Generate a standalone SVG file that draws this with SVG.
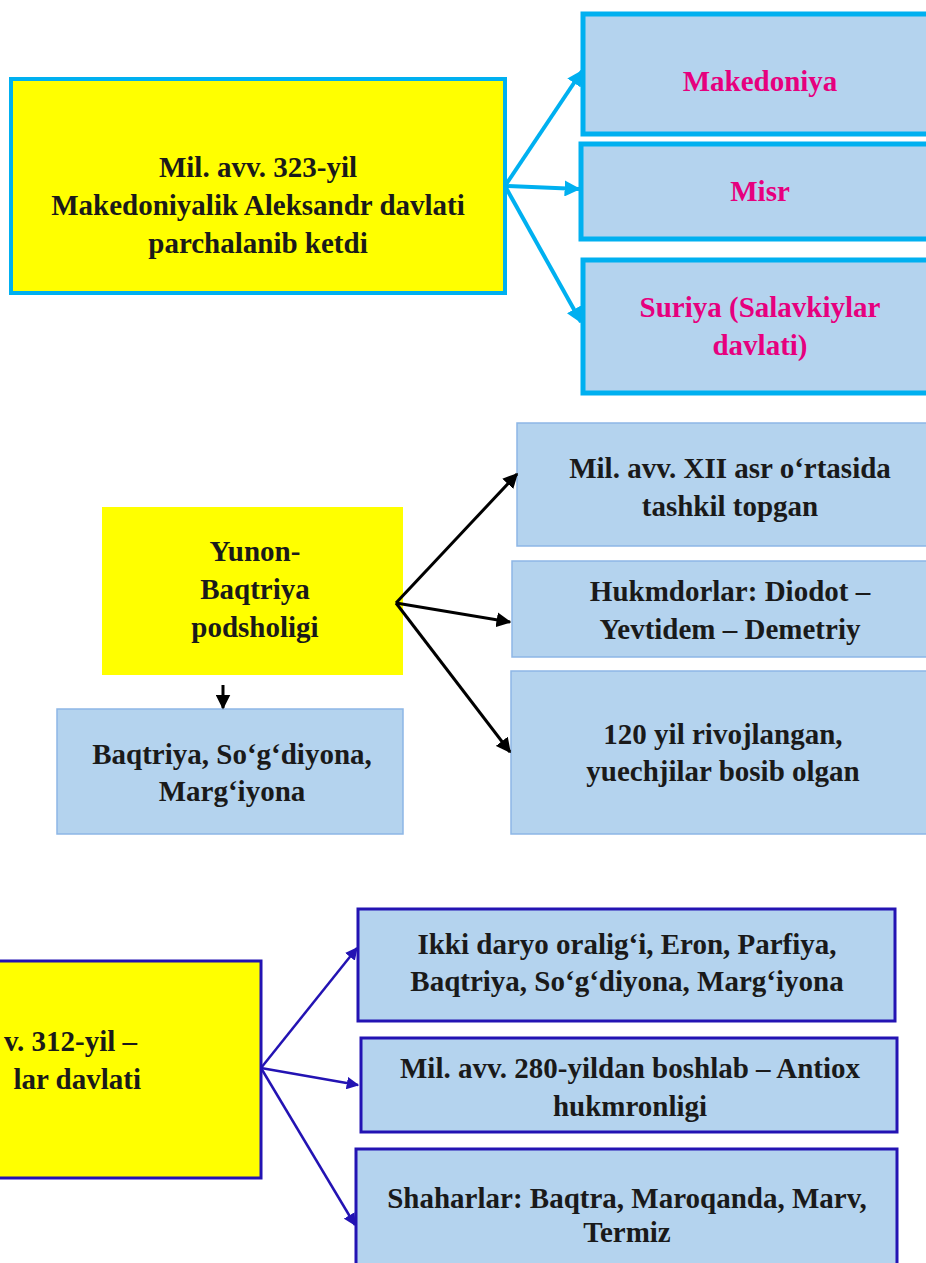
<svg xmlns="http://www.w3.org/2000/svg" width="926" height="1263" viewBox="0 0 926 1263">
<style>
text{font-family:"Liberation Serif","Times New Roman",serif;font-weight:bold;font-size:29px;text-anchor:middle;fill:#1a1a1a}
.pink{fill:#E6007E}
.yc{fill:#FFFF00;stroke:#00B0F0;stroke-width:4}
.bc{fill:#B4D3EE;stroke:#00B0F0;stroke-width:5}
.bm{fill:#B4D3EE;stroke:#8DB6E6;stroke-width:1.5}
.yb{fill:#FFFF00;stroke:#2313B3;stroke-width:3}
.bb{fill:#B4D3EE;stroke:#2313B3;stroke-width:3}
</style>
<defs>
<marker id="ac" viewBox="0 0 10 10" refX="9" refY="5" markerWidth="4" markerHeight="4" orient="auto" markerUnits="strokeWidth"><path d="M0,0 L10,5 L0,10 z" fill="#00B0F0"/></marker>
<marker id="ak" viewBox="0 0 10 10" refX="9" refY="5" markerWidth="5" markerHeight="5" orient="auto" markerUnits="strokeWidth"><path d="M0,0 L10,5 L0,10 z" fill="#000"/></marker>
<marker id="ab" viewBox="0 0 10 10" refX="9" refY="5" markerWidth="5" markerHeight="5" orient="auto" markerUnits="strokeWidth"><path d="M0,0 L10,5 L0,10 z" fill="#2313B3"/></marker>
</defs>
<g id="n-alexander"><rect class="yc" x="11" y="79" width="494" height="214"/>
<text x="258" y="177">Mil. avv. 323-yil</text><text x="258" y="215">Makedoniyalik Aleksandr davlati</text><text x="258" y="253">parchalanib ketdi</text></g>
<g id="n-makedoniya"><rect class="bc" x="583" y="14" width="350" height="120"/><text class="pink" x="760" y="91">Makedoniya</text></g>
<g id="n-misr"><rect class="bc" x="581" y="144" width="350" height="95"/><text class="pink" x="760" y="201">Misr</text></g>
<g id="n-suriya"><rect class="bc" x="583" y="260" width="350" height="133"/><text class="pink" x="760" y="317">Suriya (Salavkiylar</text><text class="pink" x="760" y="355">davlati)</text></g>
<g id="n-yunon"><rect x="102" y="507" width="301" height="168" fill="#FFFF00"/>
<text x="255" y="561">Yunon-</text><text x="255" y="599">Baqtriya</text><text x="255" y="637">podsholigi</text></g>
<g id="n-xii"><rect class="bm" x="517" y="423" width="412" height="123"/><text x="730" y="478">Mil. avv. XII asr o‘rtasida</text><text x="730" y="516">tashkil topgan</text></g>
<g id="n-hukm"><rect class="bm" x="512" y="561" width="417" height="96"/><text x="730" y="601">Hukmdorlar: Diodot –</text><text x="730" y="639">Yevtidem – Demetriy</text></g>
<g id="n-120"><rect class="bm" x="511" y="671" width="418" height="163"/><text x="723" y="744">120 yil rivojlangan,</text><text x="723" y="781">yuechjilar bosib olgan</text></g>
<g id="n-baqtriya"><rect class="bm" x="57" y="709" width="346" height="125"/><text x="232" y="764">Baqtriya, So‘g‘diyona,</text><text x="232" y="801">Marg‘iyona</text></g>
<g id="n-salavkiy"><rect class="yb" x="-5" y="961" width="266" height="217"/>
<text x="137" y="1051" style="text-anchor:end">v. 312-yil –</text><text x="141" y="1089" style="text-anchor:end">lar davlati</text></g>
<g id="n-ikki"><rect class="bb" x="358" y="909" width="537" height="112"/><text x="627" y="954">Ikki daryo oralig‘i, Eron, Parfiya,</text><text x="627" y="991">Baqtriya, So‘g‘diyona, Marg‘iyona</text></g>
<g id="n-antiox"><rect class="bb" x="361" y="1038" width="536" height="94"/><text x="630" y="1078">Mil. avv. 280-yildan boshlab – Antiox</text><text x="630" y="1116">hukmronligi</text></g>
<g id="n-shahar"><rect class="bb" x="356" y="1149" width="541" height="120"/><text x="627" y="1208">Shaharlar: Baqtra, Maroqanda, Marv,</text><text x="627" y="1242">Termiz</text></g>
<g id="connectors">
<g stroke="#00B0F0" stroke-width="4" fill="none">
<line x1="505" y1="186" x2="582" y2="71" marker-end="url(#ac)"/>
<line x1="505" y1="186" x2="579" y2="189" marker-end="url(#ac)"/>
<line x1="505" y1="186" x2="581" y2="322" marker-end="url(#ac)"/>
</g>
<g stroke="#000" stroke-width="3" fill="none">
<line x1="396" y1="603" x2="517" y2="474" marker-end="url(#ak)"/>
<line x1="396" y1="603" x2="510" y2="622" marker-end="url(#ak)"/>
<line x1="396" y1="603" x2="510" y2="752" marker-end="url(#ak)"/>
<line x1="223" y1="685" x2="223" y2="708" marker-end="url(#ak)"/>
</g>
<g stroke="#2313B3" stroke-width="2.5" fill="none">
<line x1="261" y1="1068" x2="357" y2="948" marker-end="url(#ab)"/>
<line x1="261" y1="1068" x2="358" y2="1085" marker-end="url(#ab)"/>
<line x1="261" y1="1068" x2="355" y2="1225" marker-end="url(#ab)"/>
</g>
</g>
</svg>
